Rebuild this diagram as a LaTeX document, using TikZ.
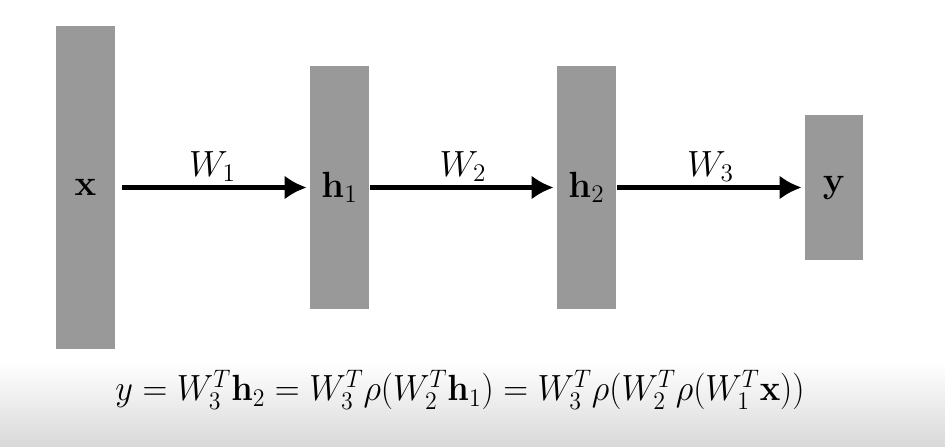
\documentclass[tikz,border=0pt]{standalone}
\usepackage{amsmath}
\usetikzlibrary{positioning, arrows.meta, calc}
\definecolor{boxgray}{HTML}{999999}

\begin{document}
\begin{tikzpicture}[x=0.02cm, y=-0.02cm, >=Latex, font=\fontsize{20}{24}\selectfont, layer/.style={fill=boxgray, minimum width=1.18cm, inner sep=0pt}, weight/.style={->, line width=2.4pt, shorten >=0.06cm, arrows={-{Latex[length=0.44cm, width=0.48cm]}}}]
\useasboundingbox (0,0) rectangle (945,446);
\shade[top color=white, bottom color=gray!30] (0,362) rectangle (945,446);
\node[layer, minimum height=6.46cm] (X) at (85.5,187.5) {$\mathbf{x}$};
\node[layer, minimum height=4.86cm] (H1) at (339.5,187.5) {$\mathbf{h}_1$};
\node[layer, minimum height=4.86cm] (H2) at (586.5,187.5) {$\mathbf{h}_2$};
\node[layer, minimum width=1.16cm, minimum height=2.9cm] (Y) at (834,187.5) {$\mathbf{y}$};
\draw[weight, shorten <=0.14cm] (X) -- (H1) node[midway, above, inner sep=2pt] {$W_1$};
\draw[weight, shorten <=0.02cm] (H1) -- (H2) node[midway, above, inner sep=2pt] {$W_2$};
\draw[weight, shorten <=0.02cm] (H2) -- (Y) node[midway, above, inner sep=2pt] {$W_3$};
\node[xscale=0.945] (Eq) at (460,390) {$y = W_3^T \mathbf{h}_2 = W_3^T \rho(W_2^T \mathbf{h}_1) = W_3^T \rho(W_2^T \rho(W_1^T \mathbf{x}))$};
\end{tikzpicture}
\end{document}
